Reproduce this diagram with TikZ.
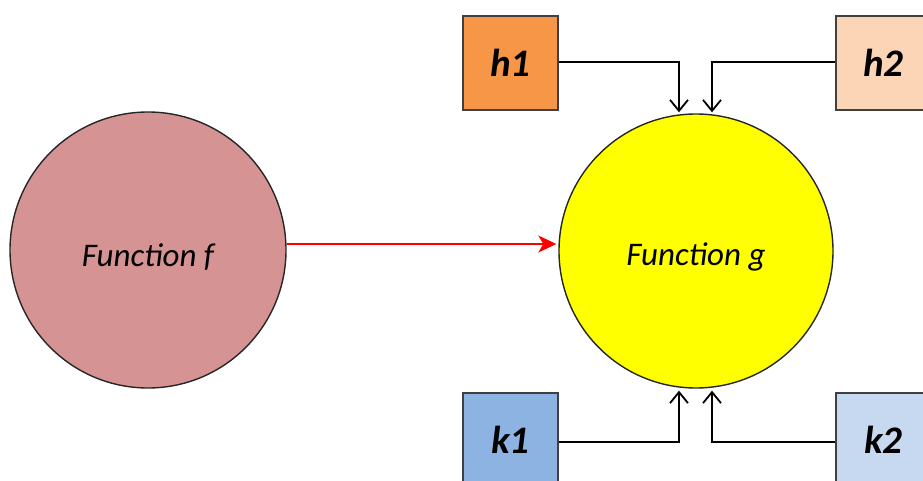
\documentclass[tikz,border=0pt]{standalone}
\usepackage{fontspec}
\setmainfont{Carlito}
\usetikzlibrary{arrows.meta,calc}
\definecolor{fcol}{RGB}{214,147,147}
\definecolor{gcol}{RGB}{255,255,0}
\definecolor{hone}{RGB}{247,150,70}
\definecolor{htwo}{RGB}{251,213,181}
\definecolor{kone}{RGB}{141,179,226}
\definecolor{ktwo}{RGB}{198,217,241}
\tikzset{
  func/.style={circle,draw=black!85,line width=1.4pt,inner sep=0pt},
  ftext/.style={font=\fontsize{33}{34}\selectfont\itshape},
  inbox/.style={rectangle,draw=black!75,line width=1.4pt,minimum width=95pt,minimum height=94pt,inner sep=0pt,font=\fontsize{39}{40}\selectfont\bfseries\itshape},
  feed/.style={draw=black,line width=1.3pt,-{Straight Barb[length=11pt,width=18pt,line width=1.8pt]}},
  redarr/.style={draw=red,line width=1.2pt,-{Stealth[length=18pt,width=17pt,inset=5pt]}}
}
\begin{document}
\begin{tikzpicture}[x=1pt,y=-1pt]
\useasboundingbox (0,0) rectangle (923,481);
\begin{scope}
\clip (0,0) rectangle (923,481);
\node[func,fill=fcol,minimum size=276pt] (f) at (148,250) {};
\node[func,fill=gcol,minimum size=274pt] (g) at (696,251) {};
\node[ftext] (ft) at (148,257) {Function f};
\node[ftext] (gt) at (696,257) {Function g};
\node[inbox,fill=hone] (h1) at (510.5,63) {h1};
\node[inbox,fill=htwo] (h2) at (883.5,63) {h2};
\node[inbox,fill=kone] (k1) at (510.5,440) {k1};
\node[inbox,fill=ktwo] (k2) at (883.5,440) {k2};
\coordinate (ghl) at ($(g.north)+(-17,-1)$);
\coordinate (ghr) at ($(g.north)+(16,-1)$);
\coordinate (gkl) at ($(g.south)+(-17,2)$);
\coordinate (gkr) at ($(g.south)+(16,2)$);
\draw[feed] ([yshift=1pt]h1.east) -| (ghl);
\draw[feed] ([yshift=1pt]h2.west) -| (ghr);
\draw[feed] ([yshift=-2pt]k1.east) -| (gkl);
\draw[feed] ([yshift=-2pt]k2.west) -| (gkr);
\draw[redarr] ([yshift=6pt]f.east) -- ([yshift=6pt,xshift=-2pt]f.east -| g.west);
\end{scope}
\end{tikzpicture}
\end{document}
